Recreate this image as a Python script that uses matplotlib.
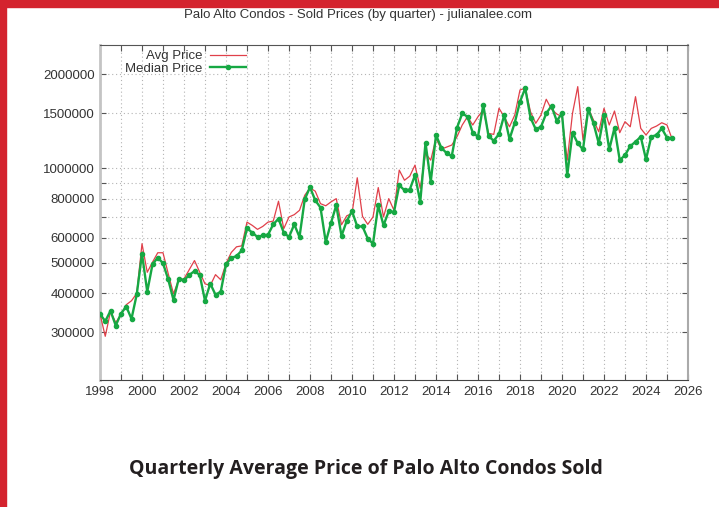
import numpy as np
import matplotlib
matplotlib.use("Agg")
import matplotlib.pyplot as plt
from matplotlib.patches import Rectangle
from matplotlib.ticker import FixedLocator, MultipleLocator, NullFormatter

# quarterly sale prices, in thousands of dollars (1998 Q1 .. 2025 Q2)
quarters = np.arange(1998, 2025.26, 0.25)

avg_price = [343, 291, 349, 322, 341, 367, 378, 399,
             575, 466, 502, 538, 538, 461, 398, 441,
             444, 475, 508, 466, 428, 423, 458, 441,
             497, 539, 562, 566, 674, 658, 639, 653,
             674, 679, 786, 642, 700, 712, 735, 821,
             867, 846, 772, 760, 782, 801, 661, 706,
             718, 934, 703, 663, 700, 869, 700, 801,
             735, 988, 917, 945, 1025, 863, 1117, 1063,
             1248, 1153, 1170, 1188, 1263, 1377, 1463, 1377,
             1463, 1538, 1295, 1285, 1557, 1463, 1359, 1482,
             1782, 1805, 1518, 1394, 1482, 1664, 1546, 1493,
             1463, 1063, 1500, 1826, 1232, 1557, 1428, 1310,
             1557, 1377, 1526, 1301, 1411, 1359, 1696, 1343,
             1279, 1343, 1366, 1400, 1377, 1239]

median_price = [343, 325, 351, 315, 344, 362, 331, 396,
                534, 404, 494, 519, 498, 442, 380, 444,
                439, 457, 470, 457, 378, 429, 395, 404,
                494, 518, 525, 547, 644, 624, 604, 611,
                614, 663, 691, 624, 604, 663, 604, 797,
                871, 791, 750, 582, 670, 763, 609, 680,
                730, 653, 653, 597, 575, 763, 658, 730,
                726, 884, 852, 856, 952, 782, 1208, 906,
                1279, 1166, 1120, 1095, 1349, 1500, 1463, 1301,
                1263, 1596, 1269, 1226, 1288, 1482, 1241, 1400,
                1635, 1805, 1453, 1334, 1359, 1500, 1584, 1418,
                1500, 952, 1301, 1203, 1150, 1549, 1394, 1203,
                1482, 1150, 1349, 1063, 1103, 1179, 1217, 1263,
                1069, 1263, 1279, 1343, 1254, 1248]

y_ticks = [300000, 400000, 500000, 600000, 700000, 800000, 900000,
           1000000, 1500000, 2000000]
y_labels = ["300000", "400000", "500000", "600000", "", "800000", "",
            "1000000", "1500000", "2000000"]

plt.rcParams['font.family'] = ['Liberation Sans', 'DejaVu Sans']

fig = plt.figure(figsize=(7.19, 5.07), dpi=100)
ax = fig.add_axes([100 / 719, 1 - 380 / 507, 588 / 719, 335 / 507])

avg = np.array(avg_price) * 1000
med = np.array(median_price) * 1000

ax.plot(quarters, avg, color='#e0404a', lw=0.9, label='Avg Price', zorder=3)
ax.plot(quarters, med, color='#16a843', lw=1.7, marker='o', ms=3.0,
        label='Median Price', zorder=4)

ax.set_yscale('log')
ax.set_ylim(211000, 2480000)
ax.set_xlim(1998, 2026)

ax.yaxis.set_major_locator(FixedLocator(y_ticks))
ax.yaxis.set_minor_locator(FixedLocator([]))
ax.yaxis.set_minor_formatter(NullFormatter())
ax.set_yticklabels(y_labels)

ax.xaxis.set_major_locator(MultipleLocator(2))
ax.xaxis.set_minor_locator(MultipleLocator(1))
ax.xaxis.set_major_formatter(matplotlib.ticker.FormatStrFormatter('%d'))

ax.grid(True, which='both', color='#b4b4b4', lw=0.8, ls=(0, (1, 2.5)))
ax.tick_params(which='both', direction='in', top=True, right=True,
               length=4, width=0.8, color='#555555', labelsize=9.5,
               labelcolor='#333333')
ax.tick_params(axis='y', pad=4)
ax.tick_params(axis='x', pad=4)

ax.spines['left'].set_color('#c4c4c4')
ax.spines['left'].set_linewidth(2)
ax.spines['bottom'].set_color('#444444')
ax.spines['top'].set_color('#555555')
ax.spines['right'].set_color('#aaaaaa')
ax.spines['right'].set_linewidth(1.5)

leg = ax.legend(loc='upper left', bbox_to_anchor=(0.022, 1.02), frameon=False,
                markerfirst=False, handlelength=2.7, labelspacing=0.0,
                fontsize=9.5, handletextpad=0.6)
for t in leg.get_texts():
    t.set_color('#333333')

fig.text(358 / 719, 1 - 15 / 507, 'Palo Alto Condos - Sold Prices (by quarter) - julianalee.com',
         ha='center', va='center', fontsize=9.5, color='#333333')

fig.text(366 / 719, 1 - 469 / 507, 'Quarterly Average Price of Palo Alto Condos Sold',
         ha='center', va='center', fontsize=14, fontweight='bold',
         family=['Open Sans', 'DejaVu Sans'], color='#231f20')

# red frame on the left and top edges
fig.patches.append(Rectangle((0, 0), 6 / 719, 1, transform=fig.transFigure,
                             color='#d4232e', zorder=10))
fig.patches.append(Rectangle((0, 1 - 7 / 507), 1, 7 / 507, transform=fig.transFigure,
                             color='#d4232e', zorder=10))

fig.savefig('out.png', dpi=100)
